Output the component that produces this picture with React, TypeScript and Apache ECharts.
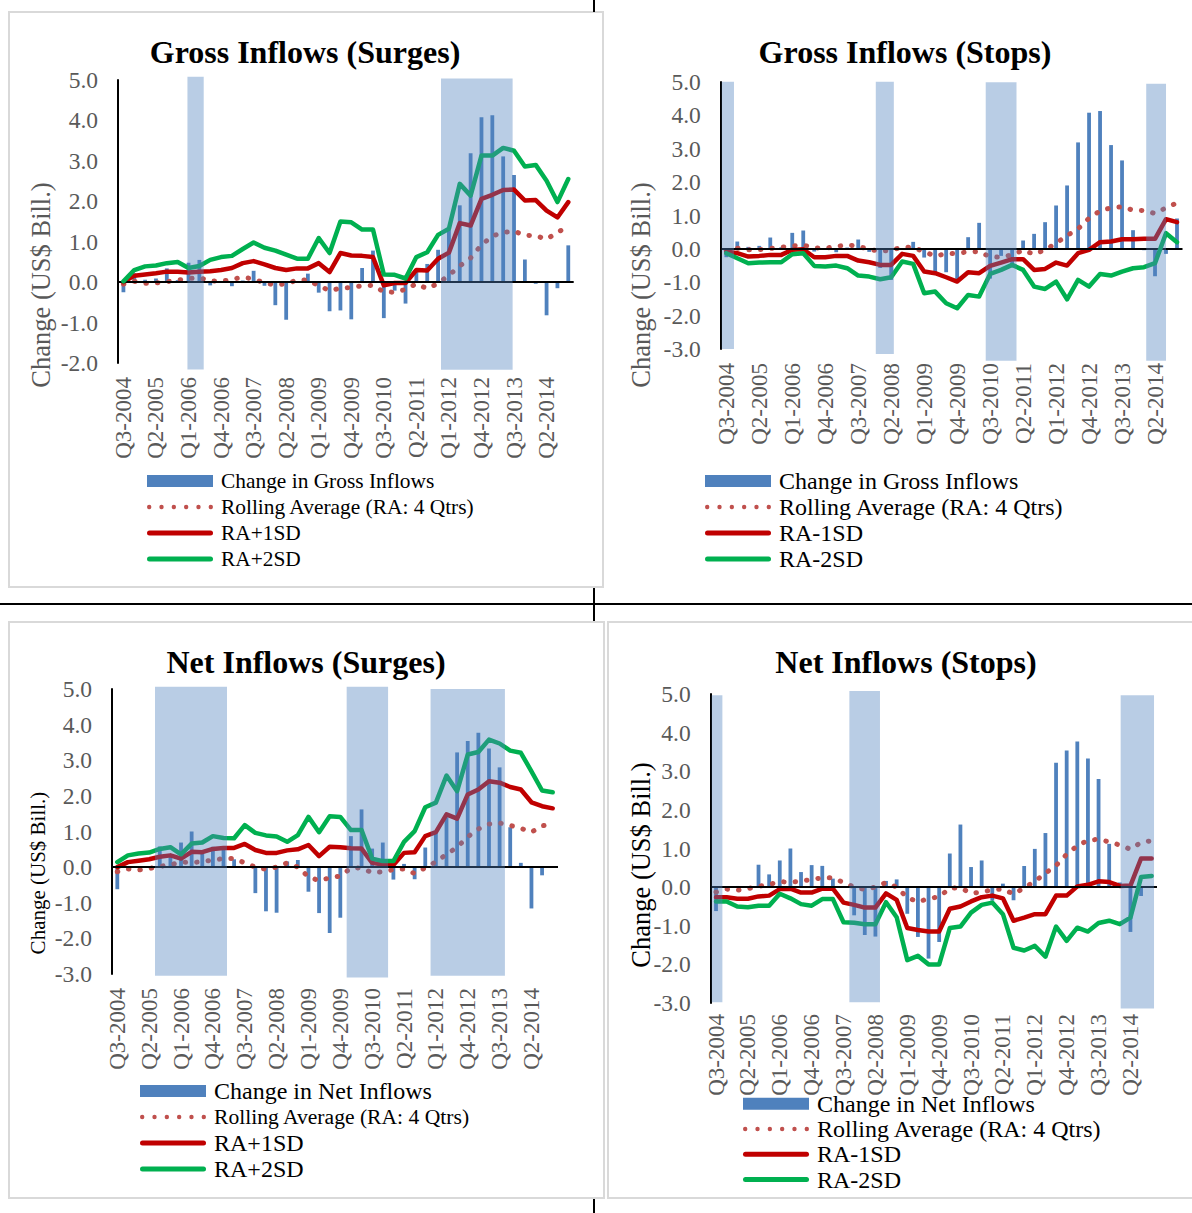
import React, { useEffect, useRef } from 'react';
import * as echarts from 'echarts';

const quarters = ['Q3-2004','Q4-2004','Q1-2005','Q2-2005','Q3-2005','Q4-2005','Q1-2006','Q2-2006','Q3-2006','Q4-2006','Q1-2007','Q2-2007','Q3-2007','Q4-2007','Q1-2008','Q2-2008','Q3-2008','Q4-2008','Q1-2009','Q2-2009','Q3-2009','Q4-2009','Q1-2010','Q2-2010','Q3-2010','Q4-2010','Q1-2011','Q2-2011','Q3-2011','Q4-2011','Q1-2012','Q2-2012','Q3-2012','Q4-2012','Q1-2013','Q2-2013','Q3-2013','Q4-2013','Q1-2014','Q2-2014','Q3-2014','Q4-2014'];

const grossChange = [-0.25, 0.22, 0.06, 0.09, 0.34, 0.05, 0.48, 0.55, -0.08, 0.01, -0.1, 0.04, 0.28, -0.09, -0.57, -0.93, -0.02, 0.21, -0.26, -0.72, -0.7, -0.92, 0.35, 0.78, -0.89, -0.21, -0.53, 0.25, 0.45, 0.8, 1.3, 1.9, 3.19, 4.08, 4.13, 3.11, 2.65, 0.56, -0.04, -0.82, -0.15, 0.91];
const grossRA = [-0.05, 0.02, -0.03, -0.02, 0.01, 0.05, 0.09, 0.11, 0.03, 0.02, 0.07, 0.12, 0.08, -0.02, -0.07, -0.04, 0.05, 0.05, -0.09, -0.21, -0.15, -0.13, -0.09, -0.08, -0.24, -0.25, -0.18, -0.04, -0.16, -0.03, 0.17, 0.4, 0.6, 0.92, 1.14, 1.23, 1.26, 1.16, 1.15, 1.06, 1.23, 1.38];
const grossPlus1 = [0, 0.16, 0.19, 0.22, 0.26, 0.26, 0.24, 0.26, 0.27, 0.3, 0.35, 0.47, 0.52, 0.44, 0.35, 0.3, 0.34, 0.34, 0.47, 0.25, 0.72, 0.66, 0.65, 0.62, -0.08, -0.02, -0.02, 0.3, 0.29, 0.58, 0.73, 1.46, 1.4, 2.06, 2.16, 2.28, 2.29, 2.02, 2.03, 1.77, 1.6, 1.98];
const grossPlus2 = [0.02, 0.3, 0.39, 0.41, 0.47, 0.5, 0.35, 0.4, 0.55, 0.62, 0.65, 0.82, 0.98, 0.85, 0.78, 0.68, 0.58, 0.58, 1.09, 0.72, 1.5, 1.48, 1.3, 1.3, 0.19, 0.18, 0.09, 0.62, 0.74, 1.17, 1.32, 2.43, 2.14, 3.13, 3.13, 3.32, 3.25, 2.86, 2.9, 2.51, 1.98, 2.55];
const grossMinus1 = [-0.08, -0.13, -0.23, -0.21, -0.18, -0.18, -0.03, -0.01, -0.25, -0.25, -0.21, -0.21, -0.35, -0.4, -0.48, -0.48, -0.15, -0.21, -0.68, -0.73, -0.85, -0.98, -0.7, -0.73, -0.51, -0.41, -0.31, -0.31, -0.63, -0.6, -0.41, -0.5, -0.13, -0.03, 0.2, 0.22, 0.29, 0.29, 0.3, 0.3, 0.89, 0.8];
const grossMinus2 = [-0.13, -0.28, -0.43, -0.41, -0.4, -0.4, -0.16, -0.13, -0.51, -0.53, -0.5, -0.58, -0.8, -0.83, -0.91, -0.85, -0.38, -0.45, -1.33, -1.28, -1.63, -1.78, -1.38, -1.43, -0.75, -0.63, -0.48, -0.63, -1.13, -1.2, -0.98, -1.51, -0.93, -1.13, -0.75, -0.8, -0.68, -0.58, -0.55, -0.43, 0.47, 0.2];

const netChange = [-0.62, 0.0, 0.03, 0.0, 0.58, 0.33, 0.69, 1.0, 0.39, 0.57, 0.55, 0.22, 0.02, -0.73, -1.24, -1.28, 0.16, 0.2, -0.69, -1.29, -1.85, -1.42, 0.87, 1.62, 0.52, 0.69, -0.35, 0.09, -0.34, 0.55, 0.99, 1.4, 3.22, 3.54, 3.77, 3.33, 2.8, 1.12, 0.12, -1.16, -0.23, 0.03];
const netRA = [-0.13, -0.05, -0.08, -0.04, 0.02, 0.07, 0.14, 0.13, 0.15, 0.2, 0.24, 0.24, 0.12, 0.0, -0.06, 0.0, 0.12, 0.0, -0.27, -0.38, -0.3, -0.25, -0.03, -0.02, -0.16, -0.13, -0.07, -0.05, -0.18, -0.02, 0.15, 0.36, 0.56, 0.85, 1.07, 1.21, 1.24, 1.17, 1.09, 0.98, 1.16, 1.2];
const netPlus1 = [0, 0.14, 0.18, 0.22, 0.29, 0.33, 0.24, 0.43, 0.42, 0.51, 0.54, 0.54, 0.65, 0.48, 0.4, 0.4, 0.47, 0.5, 0.62, 0.31, 0.57, 0.56, 0.53, 0.52, 0.12, 0.07, 0.06, 0.4, 0.42, 0.87, 0.98, 1.48, 1.36, 2.04, 2.18, 2.41, 2.37, 2.25, 2.18, 1.82, 1.71, 1.65];
const netPlus2 = [0.14, 0.33, 0.38, 0.41, 0.51, 0.56, 0.36, 0.66, 0.69, 0.87, 0.82, 0.81, 1.18, 0.96, 0.89, 0.86, 0.71, 0.9, 1.41, 0.98, 1.43, 1.41, 1.04, 1.04, 0.24, 0.17, 0.17, 0.71, 1.01, 1.68, 1.81, 2.57, 2.13, 3.16, 3.23, 3.58, 3.47, 3.27, 3.21, 2.69, 2.15, 2.1];
const netMinus1 = [-0.26, -0.26, -0.3, -0.3, -0.24, -0.22, -0.05, -0.04, -0.14, -0.14, -0.04, -0.04, -0.4, -0.46, -0.53, -0.53, -0.16, -0.33, -1.06, -1.11, -1.15, -1.15, -0.56, -0.5, -0.37, -0.26, -0.22, -0.29, -0.87, -0.79, -0.7, -0.7, -0.22, -0.22, 0.02, 0.06, 0.15, 0.13, 0.03, 0.04, 0.74, 0.74];
const netMinus2 = [-0.37, -0.37, -0.5, -0.52, -0.48, -0.48, -0.17, -0.29, -0.44, -0.48, -0.31, -0.31, -0.91, -0.92, -0.96, -0.96, -0.39, -0.78, -1.89, -1.78, -2.0, -2.0, -1.06, -1.02, -0.66, -0.46, -0.4, -0.7, -1.57, -1.64, -1.52, -1.8, -1.02, -1.39, -1.05, -1.15, -0.93, -0.87, -0.96, -0.79, 0.26, 0.29];

// shaded episodes: [start index, end index, top value, bottom value]
const bandsGrossSurges = [[5.9, 7.4, 5.08, -2.16], [29.27, 35.87, 5.04, -2.17]];
const bandsGrossStops = [[-0.42, 0.7, 5.01, -3.0], [13.6, 15.24, 5.01, -3.15], [23.6, 26.4, 4.99, -3.35], [38.2, 40.0, 4.95, -3.35]];
const bandsNetSurges = [[3.55, 10.33, 5.06, -3.05], [21.6, 25.5, 5.06, -3.1], [29.5, 36.5, 5.0, -3.05]];
const bandsNetStops = [[-0.41, 0.6, 4.97, -2.98], [12.55, 15.43, 5.08, -2.98], [38.08, 41.22, 4.97, -3.14]];

const titles = ['Gross Inflows (Surges)', 'Gross Inflows (Stops)', 'Net Inflows (Surges)', 'Net Inflows (Stops)'];
const yName = 'Change (US$ Bill.)';
const raName = 'Rolling Average (RA: 4 Qtrs)';

const SERIF = '"Liberation Serif", "Times New Roman", serif';
const BLUE = '#4F81BD';
const RED = '#C00000';
const GREEN = '#00B050';
const DOT = '#C0504D';
const GRAY = '#595959';

// legend icons (shapes only)
const LINE_ICON = 'path://M2.5,0H63.5A2.5,2.5,0,0,1,63.5,5H2.5A2.5,2.5,0,0,1,2.5,0Z';
const DOT_ICON = (() => {
  const r = 2.2;
  let d = 'path://';
  for (let k = 0; k < 6; k++) {
    const cx = r + k * ((66 - 2 * r) / 5);
    d += `M${(cx - r).toFixed(2)},${r}A${r},${r},0,1,0,${(cx + r).toFixed(2)},${r}A${r},${r},0,1,0,${(cx - r).toFixed(2)},${r}Z`;
  }
  return d;
})();

type Panel = {
  title: string; barName: string; change: number[]; ra: number[];
  sd1Name: string; sd1: number[]; sd2Name: string; sd2: number[];
  bands: number[][]; yMin: number; yMax: number;
  grid: { left: number; top: number; width: number; height: number };
  titlePos: [number, number]; yNamePos: [number, number]; yNameSize: number; yNameColor: string;
  legendPos: [number, number]; legendRow: number; legendSize: number; raLegendSize: number; labelMargin: number;
};

const panels: Panel[] = [
  {
    title: titles[0], barName: 'Change in Gross Inflows', change: grossChange, ra: grossRA,
    sd1Name: 'RA+1SD', sd1: grossPlus1, sd2Name: 'RA+2SD', sd2: grossPlus2, bands: bandsGrossSurges,
    yMin: -2, yMax: 5, grid: { left: 118, top: 80, width: 455.7, height: 283 },
    titlePos: [305, 52], yNamePos: [41, 285], yNameSize: 26.5, yNameColor: GRAY,
    legendPos: [147, 468], legendRow: 26, legendSize: 21.4, raLegendSize: 21.4, labelMargin: 14,
  },
  {
    title: titles[1], barName: 'Change in Gross Inflows', change: grossChange, ra: grossRA,
    sd1Name: 'RA-1SD', sd1: grossMinus1, sd2Name: 'RA-2SD', sd2: grossMinus2, bands: bandsGrossStops,
    yMin: -3, yMax: 5, grid: { left: 720.8, top: 82, width: 461.7, height: 267 },
    titlePos: [905, 52], yNamePos: [641, 285], yNameSize: 26.5, yNameColor: GRAY,
    legendPos: [705, 468], legendRow: 26, legendSize: 24, raLegendSize: 24, labelMargin: 14,
  },
  {
    title: titles[2], barName: 'Change in Net Inflows', change: netChange, ra: netRA,
    sd1Name: 'RA+1SD', sd1: netPlus1, sd2Name: 'RA+2SD', sd2: netPlus2, bands: bandsNetSurges,
    yMin: -3, yMax: 5, grid: { left: 112, top: 689, width: 446, height: 285 },
    titlePos: [306, 662], yNamePos: [38, 873], yNameSize: 21, yNameColor: '#000',
    legendPos: [140, 1078], legendRow: 26, legendSize: 24, raLegendSize: 21.6, labelMargin: 14,
  },
  {
    title: titles[3], barName: 'Change in Net Inflows', change: netChange, ra: netRA,
    sd1Name: 'RA-1SD', sd1: netMinus1, sd2Name: 'RA-2SD', sd2: netMinus2, bands: bandsNetStops,
    yMin: -3, yMax: 5, grid: { left: 710.7, top: 694, width: 446.3, height: 309 },
    titlePos: [906, 662], yNamePos: [641, 865], yNameSize: 26.5, yNameColor: '#000',
    legendPos: [743, 1091], legendRow: 25.3, legendSize: 24, raLegendSize: 24, labelMargin: 11,
  },
];

function buildOption() {
  const grid: any[] = [];
  const xAxis: any[] = [];
  const yAxis: any[] = [];
  const series: any[] = [];
  const legend: any[] = [];
  const graphic: any[] = [];

  panels.forEach((p, g) => {
    grid.push({ ...p.grid, containLabel: false });
    xAxis.push({
      type: 'category', gridIndex: g, data: quarters, boundaryGap: true,
      axisLine: { show: false, onZero: false }, axisTick: { show: false },
      axisLabel: { interval: 2, rotate: 90, color: GRAY, fontSize: 23, fontFamily: SERIF, margin: p.labelMargin },
      splitLine: { show: false },
    });
    xAxis.push({ type: 'value', gridIndex: g, min: -0.5, max: 41.5, show: false });
    yAxis.push({
      type: 'value', gridIndex: g, min: p.yMin, max: p.yMax, interval: 1,
      axisLine: { show: true, onZero: false, lineStyle: { color: '#000', width: 2 } },
      axisTick: { show: false }, splitLine: { show: false },
      axisLabel: { color: GRAY, fontSize: 23.5, fontFamily: SERIF, margin: 20, formatter: (v: number) => v.toFixed(1) },
    });
    const xi = 2 * g;
    series.push({
      type: 'bar', name: p.barName, xAxisIndex: xi, yAxisIndex: g, data: p.change,
      barWidth: 3.8, itemStyle: { color: BLUE }, z: 2,
      markLine: {
        silent: true, symbol: 'none', label: { show: false },
        lineStyle: { color: '#000', width: 2, type: 'solid' },
        data: [{ yAxis: 0 }],
      },
    });
    series.push({
      type: 'line', name: raName, xAxisIndex: xi, yAxisIndex: g, data: p.ra,
      symbol: 'none', z: 3,
      lineStyle: { color: DOT, width: 5, type: [0.5, 11], cap: 'round' },
      itemStyle: { color: DOT },
    });
    series.push({
      type: 'line', name: p.sd1Name, xAxisIndex: xi, yAxisIndex: g, data: p.sd1,
      symbol: 'none', z: 4, lineStyle: { color: RED, width: 4.5, join: 'round', cap: 'round' }, itemStyle: { color: RED },
    });
    series.push({
      type: 'line', name: p.sd2Name, xAxisIndex: xi, yAxisIndex: g, data: p.sd2,
      symbol: 'none', z: 5, lineStyle: { color: GREEN, width: 4.5, join: 'round', cap: 'round' }, itemStyle: { color: GREEN },
    });
    series.push({
      type: 'custom', name: 'band' + g, xAxisIndex: xi + 1, yAxisIndex: g, data: p.bands,
      encode: { x: [0, 1], y: [2, 3] }, z: 10, silent: true,
      renderItem: (params: any, api: any) => {
        const a = api.coord([api.value(0), api.value(2)]);
        const b = api.coord([api.value(1), api.value(3)]);
        return {
          type: 'rect',
          shape: { x: a[0], y: a[1], width: b[0] - a[0], height: b[1] - a[1] },
          style: { fill: 'rgba(79,129,189,0.4)' },
        };
      },
    });
    const useRich = p.raLegendSize !== p.legendSize;
    legend.push({
      orient: 'vertical', left: p.legendPos[0], top: p.legendPos[1], padding: 0, itemGap: 0,
      itemWidth: 66, itemHeight: 12, selectedMode: false, symbolKeepAspect: true,
      formatter: useRich ? (name: string) => (name === raName ? `{ra|${name}}` : name) : undefined,
      textStyle: {
        fontSize: p.legendSize, fontFamily: SERIF, color: '#000', lineHeight: p.legendRow, padding: [0, 0, 0, 3],
        rich: { ra: { fontSize: p.raLegendSize, fontFamily: SERIF, color: '#000', lineHeight: p.legendRow } },
      },
      data: [
        { name: p.barName, icon: 'rect' },
        { name: raName, icon: DOT_ICON },
        { name: p.sd1Name, icon: LINE_ICON },
        { name: p.sd2Name, icon: LINE_ICON },
      ],
    });
    graphic.push({
      type: 'text', x: p.titlePos[0], y: p.titlePos[1], z: 20,
      style: { text: p.title, fill: '#000', font: `bold 32px ${SERIF}`, textAlign: 'center', textVerticalAlign: 'middle' },
    });
    graphic.push({
      type: 'text', x: p.yNamePos[0], y: p.yNamePos[1], rotation: Math.PI / 2, z: 20,
      style: { text: yName, fill: p.yNameColor, font: `${p.yNameSize}px ${SERIF}`, textAlign: 'center', textVerticalAlign: 'middle' },
    });
  });

  // frames and table rules
  const frame = { fill: 'none', stroke: '#D9D9D9', lineWidth: 2 };
  graphic.push({ type: 'rect', shape: { x: 9, y: 12, width: 594, height: 575 }, style: frame, z: 0 });
  graphic.push({ type: 'rect', shape: { x: 9, y: 622, width: 595, height: 576 }, style: frame, z: 0 });
  graphic.push({ type: 'rect', shape: { x: 608, y: 622, width: 600, height: 576 }, style: frame, z: 0 });
  const rule = { stroke: '#000', lineWidth: 2 };
  graphic.push({ type: 'line', shape: { x1: 0, y1: 604, x2: 1192, y2: 604 }, style: rule, z: 0 });
  graphic.push({ type: 'line', shape: { x1: 594, y1: 0, x2: 594, y2: 12 }, style: rule, z: 0 });
  graphic.push({ type: 'line', shape: { x1: 594, y1: 588, x2: 594, y2: 621 }, style: rule, z: 0 });
  graphic.push({ type: 'line', shape: { x1: 594, y1: 1199, x2: 594, y2: 1213 }, style: rule, z: 0 });

  return {
    animation: false,
    backgroundColor: '#fff',
    textStyle: { fontFamily: SERIF },
    grid, xAxis, yAxis, series, legend, graphic,
  };
}

export default function App() {
  const ref = useRef<HTMLDivElement>(null);
  useEffect(() => {
    if (!ref.current) return;
    const chart = echarts.init(ref.current, undefined, { renderer: 'svg' });
    chart.setOption(buildOption() as any);
    return () => chart.dispose();
  }, []);
  return (
    <div
      ref={ref}
      style={{ position: 'absolute', left: 0, top: 0, width: 1192, height: 1213, background: '#fff' }}
    />
  );
}
